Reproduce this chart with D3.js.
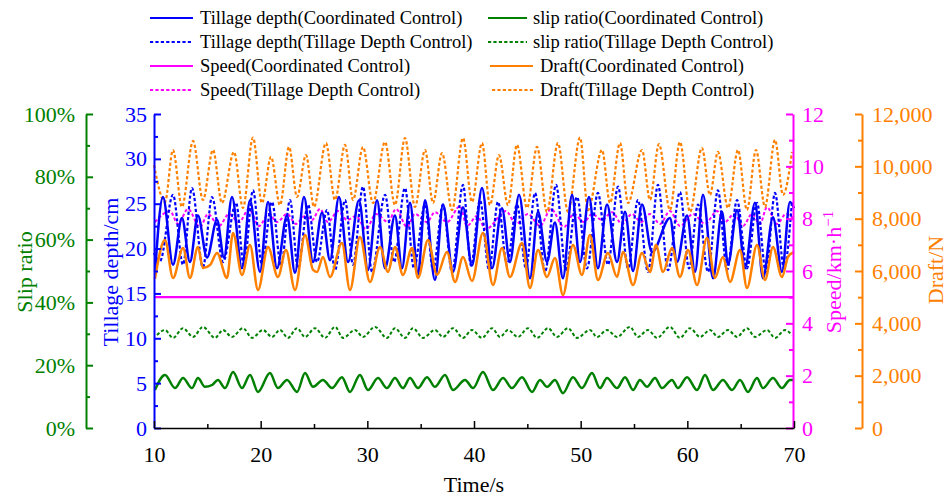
<!DOCTYPE html>
<html>
<head>
<meta charset="utf-8">
<script src="https://cdn.jsdelivr.net/npm/d3@7"></script>
<style>
  body { margin: 0; background: #fff; }
  svg { display: block; }
  text { font-family: "Liberation Serif", "Tinos", "DejaVu Serif", "Noto Serif", "Times New Roman", Times, serif; }
</style>
</head>
<body>
<svg id="chart" width="950" height="498"></svg>
<script>
const FONT = '"Liberation Serif", "Tinos", "DejaVu Serif", "Noto Serif", "Times New Roman", Times, serif';

// ---- Axis ticks ----
const timeTicks = [10, 20, 30, 40, 50, 60, 70];
const timeMinorTicks = [15, 25, 35, 45, 55, 65];
const depthTicks = [0, 5, 10, 15, 20, 25, 30, 35];
const depthMinorTicks = [2.5, 7.5, 12.5, 17.5, 22.5, 27.5, 32.5];
const slipTicks = [0, 20, 40, 60, 80, 100];
const slipMinorTicks = [10, 30, 50, 70, 90];
const speedTicks = [0, 2, 4, 6, 8, 10, 12];
const speedMinorTicks = [1, 3, 5, 7, 9, 11];
const draftTicks = [0, 2000, 4000, 6000, 8000, 10000, 12000];
const draftMinorTicks = [1000, 3000, 5000, 7000, 9000, 11000];

// ---- Series: [time (s), value] ----
// Tillage depth (cm)
const depthCoordinated = [[10.1,17.4],[10.84,25.75],[11.78,18.2],[12.62,23.4],[13.37,18.5],[14.12,23.7],[14.97,19.0],[15.91,23.2],[16.56,19.0],[17.31,25.75],[18.25,17.8],[19.0,25.4],[19.94,17.4],[20.69,25.2],[21.53,17.8],[22.47,23.7],[23.22,17.3],[24.06,25.75],[24.91,18.5],[25.75,24.0],[26.5,18.7],[27.34,25.75],[28.19,18.5],[29.22,25.4],[30.06,17.6],[30.91,25.4],[31.66,17.8],[32.59,23.7],[33.25,17.8],[34.0,25.1],[34.75,17.1],[35.41,25.4],[36.34,16.5],[37.09,24.9],[38.03,17.4],[38.97,24.6],[39.81,18.1],[40.75,26.75],[41.69,17.8],[42.62,24.5],[43.37,18.5],[44.22,26.0],[45.25,16.7],[46.0,24.1],[46.84,18.5],[47.59,22.9],[48.34,16.7],[49.19,26.0],[49.94,18.5],[50.78,25.75],[51.62,17.8],[52.47,24.9],[53.41,18.5],[54.16,24.1],[54.91,17.5],[55.75,24.9],[56.69,19.6],[58.37,23.4],[59.03,18.5],[59.97,23.7],[60.72,17.4],[61.47,26.0],[62.41,16.7],[63.25,24.1],[63.81,18.2],[64.66,24.3],[65.41,17.8],[66.34,25.1],[67.09,16.7],[68.03,23.5],[68.87,17.4],[69.62,25.2],[70.0,24.5]];
const depthDepthControl = [[10.0,19.5],[10.56,18.6],[11.78,26.0],[12.72,18.2],[13.56,26.75],[14.59,17.9],[15.44,25.75],[16.47,18.5],[17.69,25.1],[18.44,18.0],[19.28,26.5],[20.12,18.2],[21.06,25.2],[21.91,18.1],[22.75,25.4],[23.5,17.8],[24.44,24.9],[25.28,18.5],[26.22,24.3],[26.97,17.6],[27.91,25.4],[28.66,18.2],[29.59,26.9],[30.44,17.4],[31.66,26.0],[32.5,18.5],[33.53,26.75],[34.37,17.8],[35.41,24.9],[36.16,17.6],[37.09,24.9],[37.94,17.4],[38.97,27.1],[39.72,18.1],[40.56,25.4],[41.41,17.6],[42.25,25.2],[43.09,18.2],[44.03,24.9],[44.87,17.8],[45.72,26.2],[46.66,17.4],[47.69,27.1],[48.62,17.6],[49.66,25.75],[50.59,17.8],[51.62,26.2],[52.56,18.2],[53.5,26.9],[54.44,17.8],[55.37,25.4],[56.31,17.4],[57.25,27.1],[58.19,17.6],[59.31,26.3],[60.16,17.8],[61.0,24.9],[61.94,17.4],[62.87,26.5],[63.72,17.6],[64.66,25.4],[65.59,17.8],[66.53,25.1],[67.37,17.4],[68.22,26.2],[69.06,17.8],[69.81,25.2]];

// Slip ratio (%)
const slipCoordinated = [[10.09,12.1],[11.03,16.9],[11.97,12.7],[12.72,15.9],[13.56,12.7],[14.12,15.9],[14.78,13.1],[15.44,13.7],[16.0,15.3],[16.66,12.7],[17.41,17.8],[18.25,12.7],[19.0,16.9],[19.75,11.5],[20.87,17.5],[21.62,12.7],[22.47,15.3],[23.41,11.5],[24.16,17.5],[24.91,13.1],[25.84,15.3],[26.69,12.7],[27.62,16.2],[28.37,11.5],[29.31,16.9],[30.06,12.1],[31.0,15.9],[31.84,12.7],[32.59,15.9],[33.34,12.7],[34.0,15.9],[34.75,12.7],[35.59,16.2],[36.34,13.1],[37.28,16.9],[38.03,12.1],[39.16,15.3],[39.91,12.7],[40.84,17.8],[41.78,12.1],[42.72,15.9],[43.56,12.7],[44.5,16.2],[45.44,11.5],[46.19,15.3],[46.84,13.1],[47.59,15.3],[48.34,11.1],[49.28,16.2],[50.12,12.7],[51.06,17.5],[51.81,12.7],[52.47,15.9],[53.41,12.7],[54.16,16.2],[54.91,12.1],[55.56,15.3],[56.22,13.1],[56.97,15.9],[57.62,12.7],[58.56,15.3],[59.12,12.7],[59.97,16.2],[60.91,12.1],[61.66,16.9],[62.41,12.1],[63.34,15.3],[64.19,12.1],[64.94,15.3],[65.69,11.5],[66.53,15.9],[67.09,12.7],[68.03,15.9],[68.87,12.7],[69.62,15.3],[70.0,15.3]];
const slipDepthControl = [[10.28,29.6],[11.03,31.2],[11.78,28.7],[12.72,31.8],[13.66,29.0],[14.59,32.2],[15.72,28.7],[16.47,31.2],[17.31,29.0],[18.34,31.8],[19.19,28.7],[20.22,31.2],[21.06,29.0],[21.81,31.2],[22.56,28.7],[23.41,31.8],[24.16,29.0],[25.09,31.8],[26.03,28.7],[26.97,32.2],[27.72,28.7],[28.84,31.2],[29.59,29.0],[30.72,32.2],[31.84,28.7],[32.59,31.8],[33.53,28.7],[34.28,31.8],[35.22,28.7],[36.34,31.2],[37.09,29.0],[38.03,31.8],[38.97,28.7],[39.81,31.2],[40.75,28.7],[41.69,31.8],[42.44,29.0],[43.19,31.2],[44.12,29.0],[45.06,31.8],[45.91,28.7],[46.94,31.8],[47.78,29.0],[48.81,31.8],[49.66,28.7],[50.87,31.2],[51.53,29.0],[52.47,31.2],[53.41,29.0],[54.62,32.2],[55.37,29.0],[56.31,31.2],[57.16,28.7],[58.37,32.2],[59.31,28.7],[60.25,31.8],[61.19,29.0],[62.12,31.2],[62.87,29.0],[63.81,31.2],[64.66,29.0],[65.59,31.8],[66.34,29.0],[67.47,31.2],[68.22,28.7],[69.16,31.2],[69.81,29.6]];

// Speed (km/h)
const speedCoordinated = [[10,5.0],[70,5.0]];
const speedDepthControl = [[10.09,7.87],[11.5,8.29],[12.25,7.80],[13.19,8.37],[14.31,7.68],[15.06,8.18],[16.09,7.72],[17.03,8.18],[17.97,7.87],[18.91,8.37],[19.84,7.72],[20.78,8.18],[21.53,7.87],[22.47,8.18],[23.31,7.80],[24.16,8.10],[24.81,7.95],[25.56,8.37],[26.31,7.87],[27.25,8.29],[28.09,7.95],[28.94,8.10],[29.87,7.60],[30.81,8.18],[31.94,7.87],[32.69,8.37],[33.72,7.68],[34.47,8.18],[35.59,7.87],[36.34,8.25],[37.47,7.87],[38.69,8.48],[39.34,7.72],[40.28,8.10],[41.12,7.60],[43.0,8.29],[43.94,7.80],[45.06,8.18],[46.19,7.72],[47.22,8.37],[48.44,7.68],[49.37,8.18],[50.31,7.87],[51.06,8.18],[52.0,7.95],[52.94,8.25],[53.87,7.80],[54.81,8.18],[55.66,7.87],[56.5,8.18],[57.44,7.80],[58.37,8.29],[59.31,7.72],[60.53,8.18],[61.66,7.80],[62.78,8.29],[63.53,7.87],[64.37,8.18],[65.22,7.72],[66.06,8.18],[66.81,7.80],[67.47,8.44],[68.41,7.80],[69.25,8.18],[70.0,7.99]];

// Draft (N)
const draftCoordinated = [[10.09,5700],[11.03,7185],[11.78,5733],[12.72,6880],[13.37,5733],[14.12,6918],[14.59,6115],[15.25,6230],[15.91,6688],[16.84,5733],[17.41,7453],[18.25,5848],[19.0,6994],[19.75,5274],[20.69,6918],[21.62,5771],[22.37,6803],[23.22,5274],[24.16,7376],[24.91,6039],[25.28,5962],[25.84,6536],[26.5,5771],[27.62,7070],[28.37,5274],[29.31,7300],[30.25,5580],[31.19,6918],[31.94,5962],[32.59,6918],[33.34,5848],[34.19,6880],[34.75,5733],[35.69,7185],[36.53,5848],[37.47,6727],[38.22,5580],[38.97,6536],[39.81,5620],[40.84,7453],[41.78,5465],[42.62,6880],[43.37,5771],[44.5,7070],[45.25,5351],[46.0,6803],[46.84,5771],[47.59,6497],[48.34,5083],[49.28,6994],[50.12,5848],[50.87,7376],[51.62,5657],[52.56,6688],[53.41,5771],[53.97,6727],[54.91,5465],[55.75,6688],[56.5,5962],[57.06,6994],[57.72,5962],[58.56,6880],[59.31,5771],[60.06,6803],[60.91,5465],[61.84,7262],[62.59,5733],[63.34,6536],[64.0,5580],[64.94,6803],[65.59,5351],[66.53,6994],[67.28,5657],[68.03,6918],[68.87,5771],[69.44,6536],[70.0,6727]];
const draftDepthControl = [[10.0,10050],[11.03,8640],[11.78,10625],[12.62,8450],[13.66,10970],[14.59,8715],[15.53,10625],[16.37,8600],[17.5,10550],[18.34,8410],[19.28,11100],[20.12,8600],[20.97,10360],[21.81,8520],[22.66,10740],[23.41,8830],[24.25,10430],[25.0,8450],[26.12,10890],[26.97,8715],[27.91,10820],[28.66,8715],[29.59,10740],[30.53,8600],[31.66,10930],[32.59,8520],[33.53,11080],[34.47,8450],[35.41,10625],[36.16,8600],[37.0,10510],[37.94,8330],[38.97,11080],[39.81,8640],[40.75,10890],[41.5,8520],[42.34,10430],[43.19,8520],[44.03,10820],[44.97,8410],[45.91,10740],[46.84,8255],[47.87,10890],[48.81,8255],[49.94,11100],[50.69,8330],[52.0,10625],[52.75,8600],[53.69,10890],[54.44,8600],[55.75,10625],[56.5,8715],[57.34,10850],[58.37,8330],[59.31,10930],[60.25,8255],[61.37,10700],[62.12,8905],[62.87,10550],[63.81,8410],[64.75,10625],[65.59,8330],[66.44,10625],[67.28,8450],[68.22,11010],[68.97,8905],[69.81,10550]];

// ---- Colours ----
const BLUE = "#0000ff", GREEN = "#008000", MAGENTA = "#ff00ff", ORANGE = "#ff8000";

const svg = d3.select("#chart");
svg.append("rect").attr("width", 950).attr("height", 498).attr("fill", "#fff");

// ---- Scales ----
const x = d3.scaleLinear().domain([10, 70]).range([154, 794]);
const yDepth = d3.scaleLinear().domain([0, 35]).range([428, 114]);
const ySlip = d3.scaleLinear().domain([0, 100]).range([428, 114]);
const ySpeed = d3.scaleLinear().domain([0, 12]).range([428, 114]);
const yDraft = d3.scaleLinear().domain([0, 12000]).range([428, 114]);

// ---- Curves ----
const DASH = "3.2,2.2";
const series = [
  { data: slipCoordinated, y: ySlip, color: GREEN, dash: null, w: 2.5 },
  { data: slipDepthControl, y: ySlip, color: GREEN, dash: DASH, w: 2.0 },
  { data: speedDepthControl, y: ySpeed, color: MAGENTA, dash: DASH, w: 2.0 },
  { data: draftDepthControl, y: yDraft, color: ORANGE, dash: DASH, w: 2.2 },
  { data: depthDepthControl, y: yDepth, color: BLUE, dash: DASH, w: 2.2 },
  { data: depthCoordinated, y: yDepth, color: BLUE, dash: null, w: 2.5 },
  { data: draftCoordinated, y: yDraft, color: ORANGE, dash: null, w: 2.5 },
  { data: speedCoordinated, y: ySpeed, color: MAGENTA, dash: null, w: 2.2 }
];

const plot = svg.append("g");
series.forEach(s => {
  const gen = d3.line()
    .x(d => x(d[0]))
    .y(d => s.y(d[1]))
    .curve(d3.curveMonotoneX);
  plot.append("path")
    .datum(s.data)
    .attr("d", gen)
    .attr("fill", "none")
    .attr("stroke", s.color)
    .attr("stroke-width", s.w)
    .attr("stroke-linejoin", "round")
    .attr("stroke-dasharray", s.dash);
});

// ---- Axes ----
function styleAxis(g, color, width) {
  g.attr("font-family", FONT).attr("font-size", 22);
  g.selectAll("path.domain").attr("stroke", color).attr("stroke-width", width);
  g.selectAll(".tick line").attr("stroke", color).attr("stroke-width", width);
  g.selectAll(".tick text")
    .attr("fill", color)
    .attr("font-family", FONT)
    .style("font-family", FONT)
    .style("font-size", "22px");
}

function yAxis(maker, scale, pos, color, majors, minors, fmt, pad) {
  const gMinor = svg.append("g").attr("transform", `translate(${pos},0)`)
    .call(maker(scale).tickValues(minors).tickSizeInner(-4).tickSizeOuter(0).tickFormat(""));
  gMinor.select("path.domain").remove();
  styleAxis(gMinor, color, 2);
  const g = svg.append("g").attr("transform", `translate(${pos},0)`)
    .call(maker(scale).tickValues(majors).tickSizeInner(-7).tickSizeOuter(0).tickPadding(pad).tickFormat(fmt));
  styleAxis(g, color, 2);
  return g;
}

yAxis(d3.axisLeft, ySlip, 86, GREEN, slipTicks, slipMinorTicks, d => d + "%", 11);
yAxis(d3.axisLeft, yDepth, 154, BLUE, depthTicks, depthMinorTicks, d3.format("d"), 7);
yAxis(d3.axisRight, ySpeed, 793, MAGENTA, speedTicks, speedMinorTicks, d3.format("d"), 9);
yAxis(d3.axisRight, yDraft, 862, ORANGE, draftTicks, draftMinorTicks, d3.format(","), 10);

// x axis
const gxMinor = svg.append("g").attr("transform", "translate(0,428)")
  .call(d3.axisBottom(x).tickValues(timeMinorTicks).tickSizeInner(-4).tickSizeOuter(0).tickFormat(""));
gxMinor.select("path.domain").remove();
styleAxis(gxMinor, "#000", 1.5);
const gx = svg.append("g").attr("transform", "translate(0,428)")
  .call(d3.axisBottom(x).tickValues(timeTicks).tickSizeInner(-7).tickSizeOuter(0).tickPadding(18).tickFormat(d3.format("d")));
styleAxis(gx, "#000", 1.5);

// ---- Axis titles ----
function vTitle(xp, yp, color) {
  return svg.append("text")
    .attr("transform", `translate(${xp},${yp}) rotate(-90)`)
    .attr("text-anchor", "middle")
    .attr("fill", color)
    .attr("font-family", FONT)
    .style("font-family", FONT)
    .style("font-size", "22px");
}
vTitle(32, 272, GREEN).text("Slip ratio");
vTitle(118, 272, BLUE).text("Tillage depth/cm");
const sp = vTitle(841, 272, MAGENTA);
sp.append("tspan").text("Speed/km·h");
sp.append("tspan").attr("dy", -8).style("font-size", "15px").text("−1");
vTitle(943, 270, ORANGE).text("Draft/N");

svg.append("text")
  .attr("x", 474).attr("y", 492)
  .attr("text-anchor", "middle")
  .attr("fill", "#000")
  .attr("font-family", FONT)
  .style("font-family", FONT)
  .style("font-size", "22px")
  .text("Time/s");

// ---- Legend ----
const legendItems = [
  { label: "Tillage depth(Coordinated Control)", color: BLUE, dash: null, x1: 150, x2: 193, tx: 200, y: 18 },
  { label: "slip ratio(Coordinated Control)", color: GREEN, dash: null, x1: 488, x2: 527, tx: 533, y: 18 },
  { label: "Tillage depth(Tillage Depth Control)", color: BLUE, dash: DASH, x1: 150, x2: 193, tx: 200, y: 42 },
  { label: "slip ratio(Tillage Depth Control)", color: GREEN, dash: DASH, x1: 488, x2: 527, tx: 533, y: 42 },
  { label: "Speed(Coordinated Control)", color: MAGENTA, dash: null, x1: 150, x2: 193, tx: 200, y: 66 },
  { label: "Draft(Coordinated Control)", color: ORANGE, dash: null, x1: 490, x2: 533, tx: 540, y: 66 },
  { label: "Speed(Tillage Depth Control)", color: MAGENTA, dash: DASH, x1: 150, x2: 193, tx: 200, y: 90 },
  { label: "Draft(Tillage Depth Control)", color: ORANGE, dash: DASH, x1: 492, x2: 535, tx: 540, y: 90 }
];
const legend = svg.append("g");
legendItems.forEach(it => {
  legend.append("line")
    .attr("x1", it.x1).attr("x2", it.x2).attr("y1", it.y).attr("y2", it.y)
    .attr("stroke", it.color).attr("stroke-width", 2)
    .attr("stroke-dasharray", it.dash);
  legend.append("text")
    .attr("x", it.tx).attr("y", it.y + 6)
    .attr("fill", "#000")
    .attr("font-family", FONT)
    .style("font-family", FONT)
    .style("font-size", "18.5px")
    .text(it.label);
});
</script>
</body>
</html>
